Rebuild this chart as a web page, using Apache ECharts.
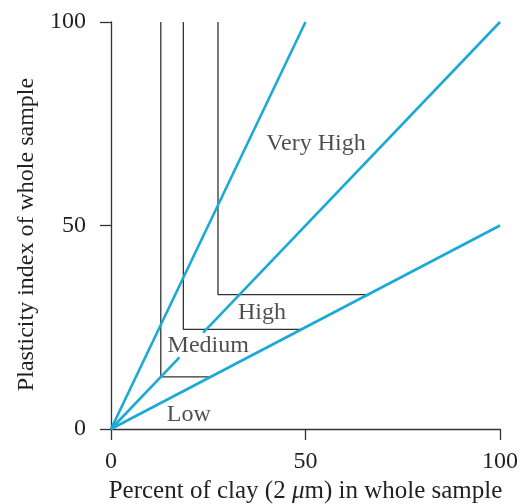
<!DOCTYPE html>
<html>
<head>
<meta charset="utf-8">
<script src="https://cdn.jsdelivr.net/npm/echarts@6/dist/echarts.min.js"></script>
<style>html,body{margin:0;padding:0;background:#fff}#c{width:521px;height:504px}</style>
</head>
<body>
<div id="c"></div>
<script>
// Activity boundary lines (blue), from origin
const lineSteep = [[0, 0], [50, 100]];
const lineMidLow = [[0, 0], [17.6, 17.6]];
const lineMidHigh = [[23.7, 23.7], [100, 100]];
const lineFlat = [[0, 0], [100, 50]];
// Class boundaries (black)
const boundMedium = [[12.8, 100], [12.8, 12.8], [25.6, 12.8]];
const boundHigh = [[18.6, 100], [18.6, 24.5], [49, 24.5]];
const boundVeryHigh = [[27.5, 100], [27.5, 33], [66, 33]];
// Region labels
const labelNames = ['Very High', 'High', 'Medium', 'Low'];
const labelPos = [[52.7, 70.2], [38.8, 28.6], [25, 20.4], [20, 3.4]];
const xTicks = [0, 50, 100];
const yTicks = [0, 50, 100];

const font = 'Liberation Serif';
const blue = '#1ba9d6';
const dark = '#333';
const textColor = '#231f20';

function blueLine(d) {
  return { type: 'line', data: d, symbol: 'none', silent: true,
    lineStyle: { color: blue, width: 2.6 }, z: 3 };
}
function blackLine(d) {
  return { type: 'line', data: d, symbol: 'none', silent: true,
    lineStyle: { color: dark, width: 1.3 }, z: 2 };
}

const chart = echarts.init(document.getElementById('c'), null, { renderer: 'canvas' });
chart.setOption({
  animation: false,
  grid: { left: 111, right: 21, top: 22, bottom: 75, containLabel: false, outerBoundsMode: 'none' },
  xAxis: {
    type: 'value', min: xTicks[0], max: xTicks[xTicks.length - 1], interval: 50,
    name: 'Percent of clay (2 {i|\u03bc}m) in whole sample', nameLocation: 'middle', nameGap: 48,
    nameTextStyle: { fontFamily: font, fontSize: 25, color: textColor,
      rich: { i: { fontFamily: font, fontSize: 25, fontStyle: 'italic', color: textColor } } },
    axisLine: { lineStyle: { color: dark, width: 1.3 } },
    axisTick: { show: true, length: 11, lineStyle: { color: dark, width: 1.3 } },
    axisLabel: { fontFamily: font, fontSize: 24, color: textColor, margin: 21 },
    splitLine: { show: false }
  },
  yAxis: {
    type: 'value', min: yTicks[0], max: yTicks[yTicks.length - 1], interval: 50,
    name: 'Plasticity index of whole sample', nameLocation: 'middle', nameGap: 69,
    nameTextStyle: { fontFamily: font, fontSize: 24, color: textColor, padding: [0, 18, 0, 0] },
    axisLine: { show: true, lineStyle: { color: dark, width: 1.3 } },
    axisTick: { show: true, length: 11, lineStyle: { color: dark, width: 1.3 } },
    axisLabel: { fontFamily: font, fontSize: 24, color: textColor, margin: 25 },
    splitLine: { show: false }
  },
  series: [
    blackLine(boundMedium),
    blackLine(boundHigh),
    blackLine(boundVeryHigh),
    blueLine(lineSteep),
    blueLine(lineMidLow),
    blueLine(lineMidHigh),
    blueLine(lineFlat),
    {
      type: 'scatter', symbolSize: 0, silent: true, z: 5,
      data: labelPos.map((p, i) => ({ value: p, name: labelNames[i] })),
      label: { show: true, position: 'inside', formatter: p => p.name,
        fontFamily: font, fontSize: 24, color: textColor }
    }
  ]
});
</script>
</body>
</html>
